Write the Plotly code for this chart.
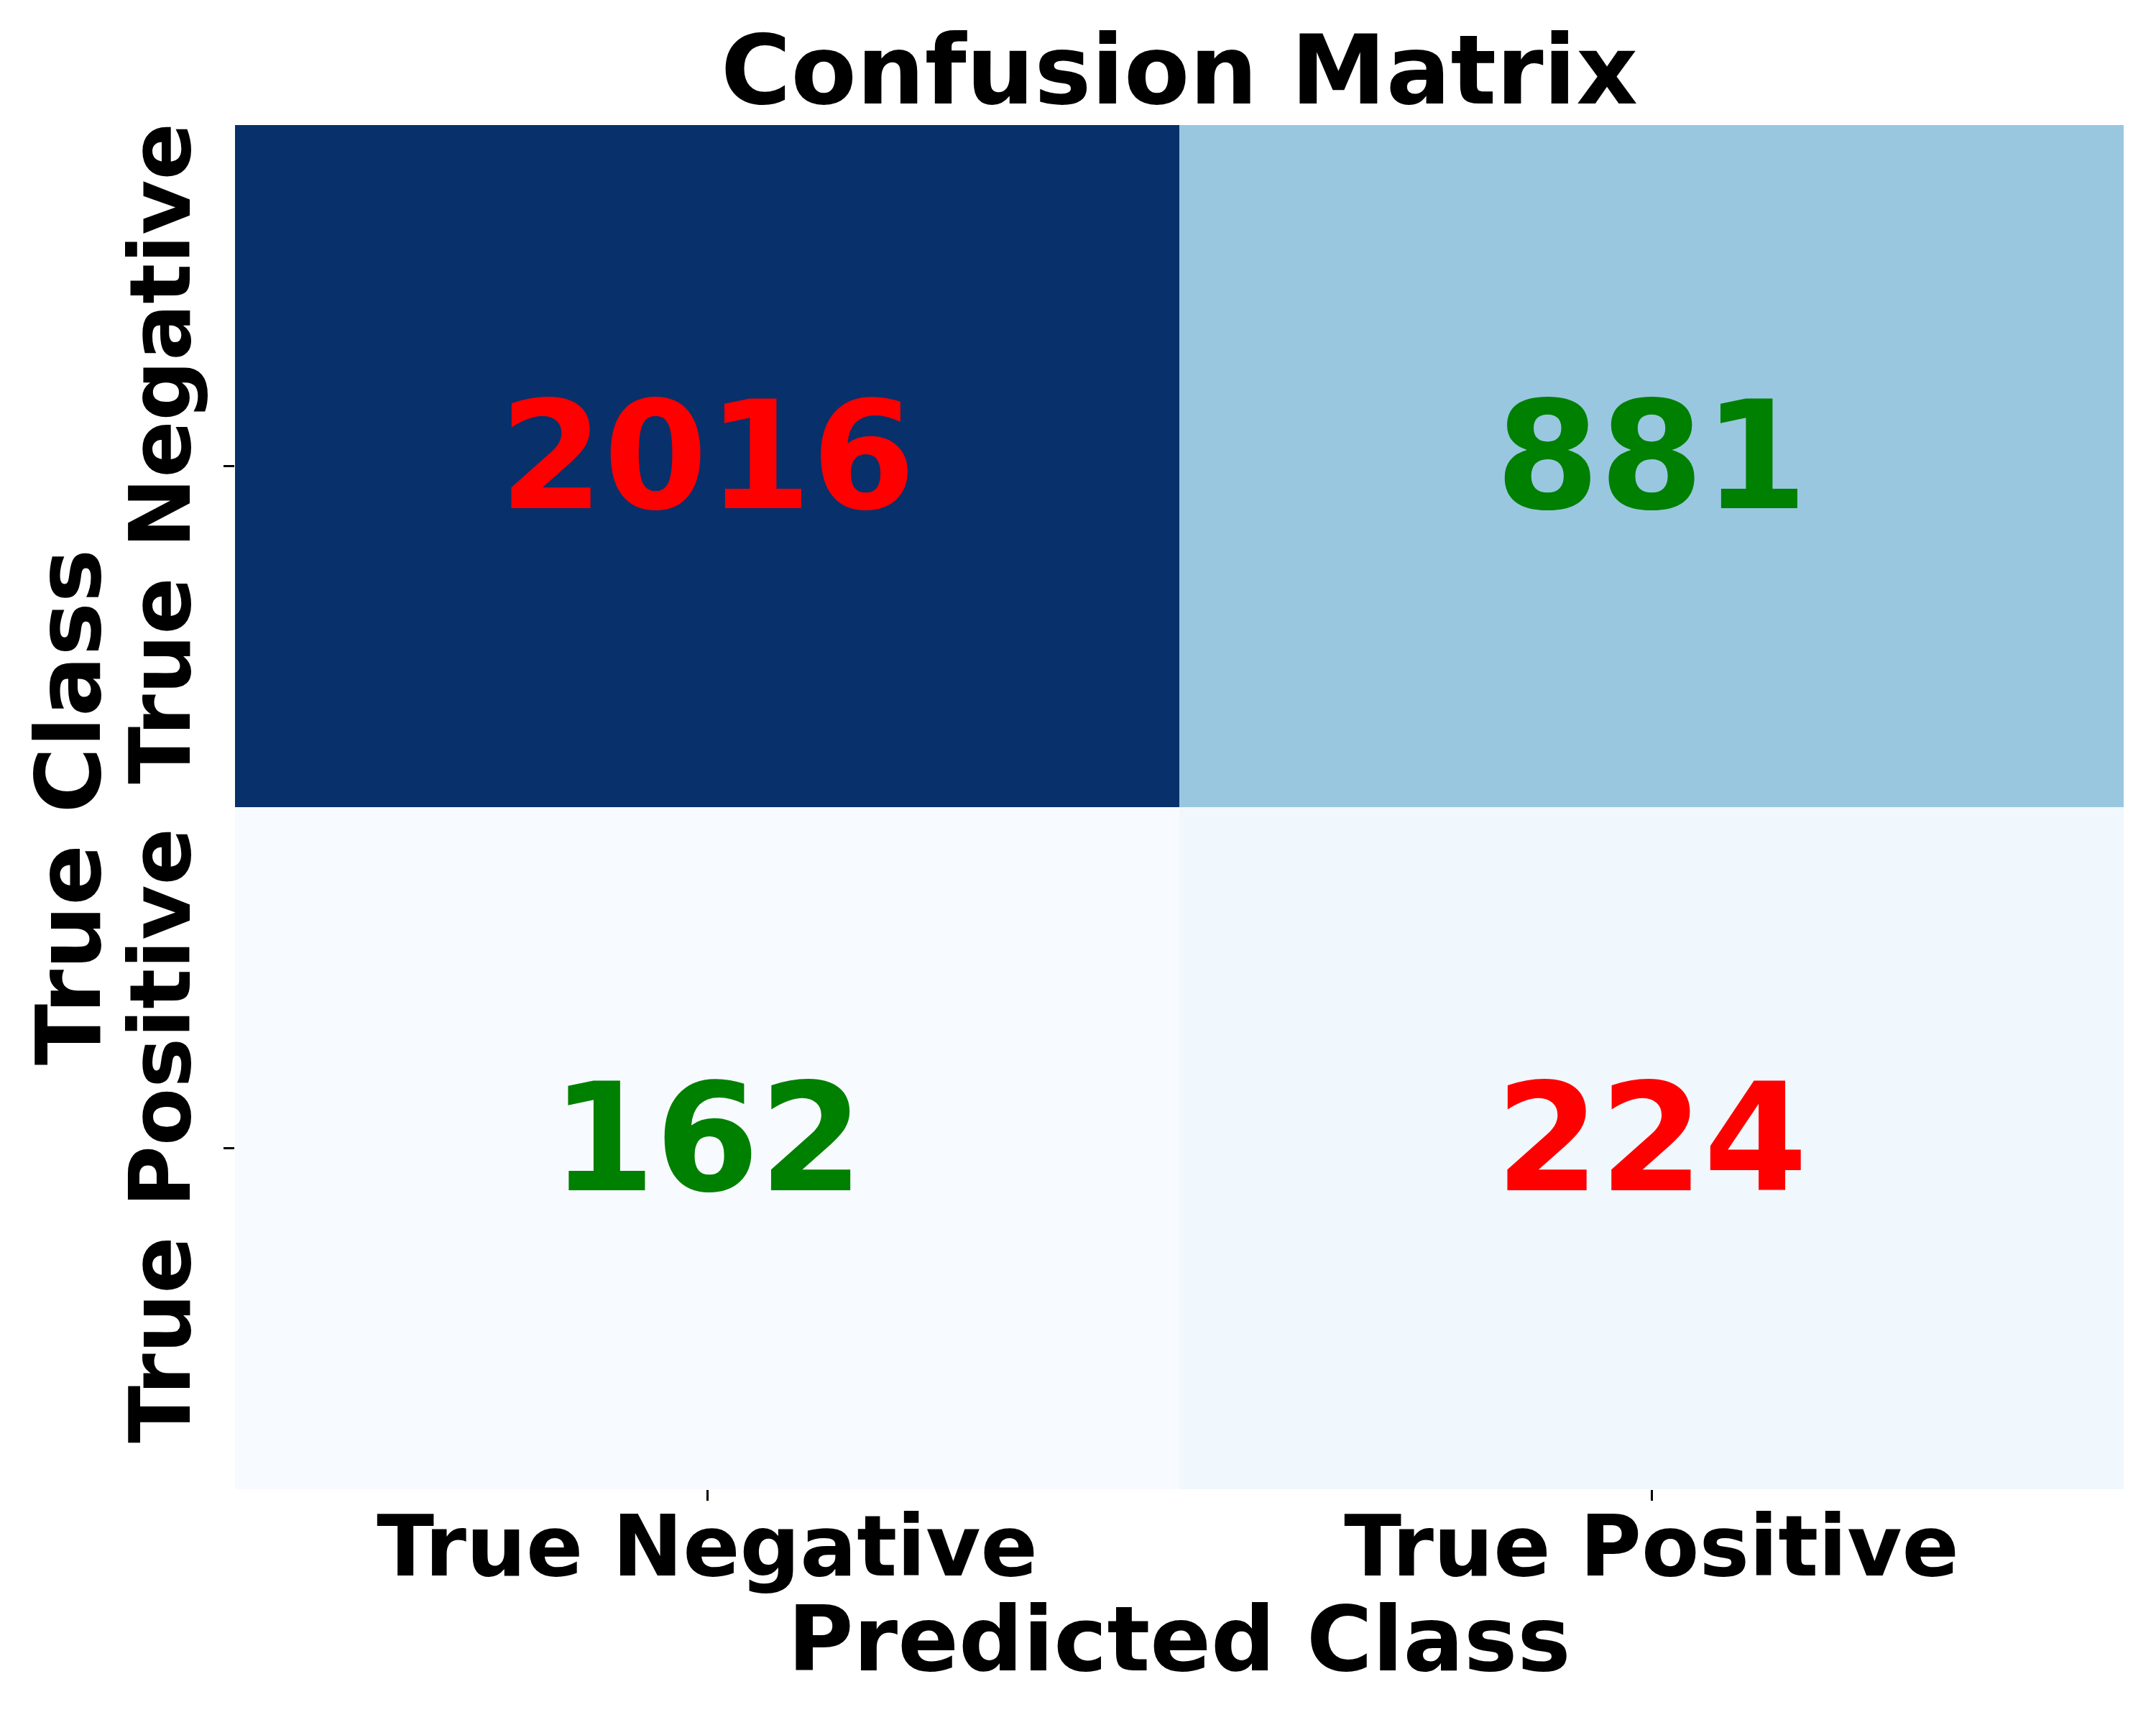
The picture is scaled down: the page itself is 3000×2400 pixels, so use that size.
import plotly.graph_objects as go

# 混淆矩阵数据
class_labels = ['True Negative', 'True Positive']
cm_values = [
    [2016, 881],
    [162, 224],
]
title_text = 'Confusion Matrix'
x_title = 'Predicted Class'
y_title = 'True Class'

# matplotlib Blues 色阶（colorbrewer 9 级）
blues = ['#f7fbff', '#deebf7', '#c6dbef', '#9ecae1', '#6baed6',
         '#4292c6', '#2171b5', '#08519c', '#08306b']
colorscale = [[i / (len(blues) - 1), c] for i, c in enumerate(blues)]

font_family = 'DejaVu Sans'
flat = [v for row in cm_values for v in row]

fig = go.Figure(go.Heatmap(
    z=cm_values,
    x=class_labels,
    y=class_labels,
    colorscale=colorscale,
    zmin=min(flat),
    zmax=max(flat),
    showscale=False,
    hoverinfo='skip',
))

# 单元格数值：对角线红色，非对角线绿色
annotations = []
for i, row_label in enumerate(class_labels):
    for j, col_label in enumerate(class_labels):
        annotations.append(dict(
            x=col_label, y=row_label, xref='x', yref='y',
            text=str(cm_values[i][j]), showarrow=False,
            yshift=14,
            font=dict(family=font_family, size=208, weight='bold',
                      color='#ff0000' if i == j else '#008000'),
        ))

# 坐标轴标题（用注释精确定位）
annotations.append(dict(
    text=x_title, xref='paper', yref='paper', x=0.5, y=-0.1096,
    xanchor='center', yanchor='middle', showarrow=False,
    font=dict(family=font_family, size=125, weight='bold', color='black'),
))
annotations.append(dict(
    text=y_title, xref='paper', yref='paper', x=-0.0883, y=0.5,
    xanchor='center', yanchor='middle', showarrow=False, textangle=-90,
    font=dict(family=font_family, size=125, weight='bold', color='black'),
))

fig.update_layout(
    width=3000, height=2400,
    margin=dict(l=327, r=45, t=174, b=328),
    paper_bgcolor='white', plot_bgcolor='white',
    font=dict(family=font_family, color='black'),
    title=dict(
        text=title_text, x=0.5, xref='paper', xanchor='center',
        y=1 - 97 / 2400, yanchor='middle', yref='container',
        font=dict(family=font_family, size=133, weight='bold', color='black'),
    ),
    annotations=annotations,
)

fig.update_xaxes(
    tickfont=dict(family=font_family, size=117, weight='bold'),
    ticklabelstandoff=-36,
    ticks='outside', ticklen=15, tickwidth=3, tickcolor='black',
    showgrid=False, zeroline=False, showline=False, automargin=False,
)
fig.update_yaxes(
    tickfont=dict(family=font_family, size=117, weight='bold'),
    tickangle=-90,
    autorange='reversed',
    ticks='outside', ticklen=15, tickwidth=3, tickcolor='black',
    showgrid=False, zeroline=False, showline=False, automargin=False,
)

# 去掉页面默认边距，隐藏工具栏
fig.write_html('out.html', config={'displayModeBar': False},
               post_script="document.body.style.margin='0';")
